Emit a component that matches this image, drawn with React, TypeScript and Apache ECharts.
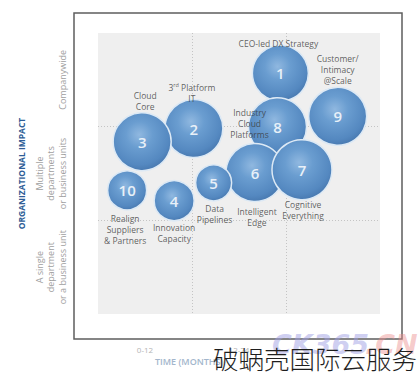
import React, { useEffect, useRef } from "react";
import * as echarts from "echarts";

// Bubble data (drawing order: later items on top)
const bubbleIds = ["1", "9", "8", "6", "7", "5", "2", "3", "4", "10"];
const bubbleNames = [
  "CEO-led DX Strategy",
  "Customer/\nIntimacy\n@Scale",
  "Industry\nCloud\nPlatforms",
  "Intelligent\nEdge",
  "Cognitive\nEverything",
  "Data\nPipelines",
  "{t|3}{sup|rd}{t| Platform}\n{t|IT}",
  "Cloud\nCore",
  "Innovation\nCapacity",
  "Realign\nSuppliers\n& Partners",
];
const timeValues = [1.94, 2.55, 1.91, 1.67, 2.17, 1.23, 1.02, 0.47, 0.81, 0.31];
const impactValues = [2.57, 2.11, 2.0, 1.51, 1.54, 1.4, 1.98, 1.84, 1.21, 1.32];
const bubbleSizes = [56, 58, 58, 58, 60, 36, 58, 58, 40, 39];

// Tick labels
const timeLabels = ["0-12", "12-24", ""];
const impactLabels = [
  "A single\ndepartment\nor a business unit",
  "Multiple\ndepartments\nor business units",
  "Companywide",
];

// Styling: label offsets relative to bubble centres (px)
const nameOffsets: [number, number][] = [
  [-2, -30],
  [0, -47],
  [-28, -3],
  [2, 44],
  [1, 40],
  [1, 31],
  [-2, -36],
  [3, -41],
  [0, 32],
  [-2, 39],
];

const FONT = "Open Sans";

export default function App() {
  const ref = useRef<HTMLDivElement>(null);
  useEffect(() => {
    if (!ref.current) return;
    const chart = echarts.init(ref.current, undefined, { renderer: "svg" });
    const pts = timeValues.map((x, i) => [x, impactValues[i], bubbleSizes[i]]);
    const ball = new echarts.graphic.RadialGradient(0.45, 0.38, 0.65, [
      { offset: 0, color: "#90b8e0" },
      { offset: 0.35, color: "#6a9dd0" },
      { offset: 0.8, color: "#5488c0" },
      { offset: 1, color: "#4676ad" },
    ]);
    const splitStyle = {
      show: true,
      showMinLine: false,
      showMaxLine: false,
      lineStyle: { color: "#c4c4c4", type: [1, 2], width: 1 },
    };
    chart.setOption({
      animation: false,
      backgroundColor: "#ffffff",
      textStyle: { fontFamily: FONT },
      grid: {
        left: 98,
        top: 33,
        width: 282,
        height: 281,
        show: true,
        backgroundColor: "#efefef",
        borderWidth: 0,
      },
      xAxis: [
        {
          type: "value",
          min: 0,
          max: 3,
          interval: 1,
          axisLine: { show: false },
          axisTick: { show: false },
          axisLabel: { show: false },
          splitLine: splitStyle,
        },
        {
          type: "category",
          position: "bottom",
          data: timeLabels,
          boundaryGap: true,
          axisLine: { show: false },
          axisTick: { show: false },
          splitLine: { show: false },
          axisLabel: {
            interval: 0,
            color: "#b4b4b4",
            fontSize: 8,
            margin: 31,
            fontFamily: FONT,
          },
        },
      ],
      yAxis: [
        {
          type: "value",
          min: 0,
          max: 3,
          interval: 1,
          axisLine: { show: false },
          axisTick: { show: false },
          axisLabel: { show: false },
          splitLine: splitStyle,
        },
        {
          type: "category",
          position: "left",
          data: impactLabels,
          boundaryGap: true,
          axisLine: { show: false },
          axisTick: { show: false },
          splitLine: { show: false },
          axisLabel: {
            interval: 0,
            rotate: 90,
            color: "#a0a0a0",
            fontSize: 9,
            lineHeight: 11.5,
            margin: 30,
            align: "center",
            fontFamily: FONT,
          },
          name: "ORGANIZATIONAL IMPACT",
          nameLocation: "middle",
          nameRotate: 90,
          nameGap: 72,
          nameTextStyle: {
            color: "#2e5d96",
            fontSize: 8.5,
            fontWeight: "bold",
            fontFamily: FONT,
          },
        },
      ],
      series: [
        {
          type: "scatter",
          xAxisIndex: 0,
          yAxisIndex: 0,
          data: pts,
          symbolSize: (v: number[]) => v[2],
          itemStyle: {
            color: ball,
            borderColor: "#dce9f5",
            borderWidth: 1.5,
            opacity: 1,
          },
          label: {
            show: true,
            position: "inside",
            formatter: (p: any) => bubbleIds[p.dataIndex],
            color: "#e8f0f8",
            fontSize: 15,
            fontWeight: 600,
            fontFamily: FONT,
          },
          z: 2,
        },
        {
          type: "scatter",
          xAxisIndex: 0,
          yAxisIndex: 0,
          data: pts.map((p, i) => ({
            value: p,
            label: { offset: nameOffsets[i] },
          })),
          symbolSize: 1,
          itemStyle: { color: "transparent" },
          silent: true,
          label: {
            show: true,
            position: "inside",
            formatter: (p: any) => bubbleNames[p.dataIndex],
            color: "#3a3a3a",
            fontSize: 8.5,
            lineHeight: 11,
            align: "center",
            verticalAlign: "middle",
            fontFamily: FONT,
            rich: {
              t: { color: "#3a3a3a", fontSize: 8.5, lineHeight: 11, fontFamily: FONT },
              sup: { color: "#3a3a3a", fontSize: 5.5, lineHeight: 11, verticalAlign: "top", fontFamily: FONT },
            },
          },
          z: 5,
        },
      ],
      graphic: [
        {
          type: "rect",
          shape: { x: 74, y: 13, width: 328, height: 326 },
          style: { fill: "none", stroke: "#5e5e5e", lineWidth: 1.5 },
          z: 0,
        },
        {
          type: "text",
          x: 155,
          y: 357,
          style: {
            text: "TIME (MONTHS)",
            fill: "#a3b6cc",
            fontSize: 9,
            fontWeight: 600,
            fontFamily: FONT,
          },
          z: 1,
        },
        {
          type: "text",
          x: 272,
          y: 331,
          style: {
            text: "CK365",
            fill: "rgba(160,160,228,0.5)",
            fontSize: 27,
            fontWeight: "bold",
            fontStyle: "italic",
            fontFamily: "DejaVu Sans",
          },
          z: 50,
        },
        {
          type: "text",
          x: 365,
          y: 331,
          style: {
            text: ".CN",
            fill: "rgba(235,140,140,0.45)",
            fontSize: 27,
            fontWeight: "bold",
            fontStyle: "italic",
            fontFamily: "DejaVu Sans",
          },
          z: 50,
        },
        {
          type: "text",
          x: 213,
          y: 345,
          style: {
            text: "破蜗壳国际云服务",
            fill: "#1e1e1e",
            fontSize: 25.5,
            fontWeight: 300,
            fontFamily: "Noto Sans CJK SC",
          },
          z: 60,
        },
      ],
    });
    return () => chart.dispose();
  }, []);
  return (
    <div
      ref={ref}
      style={{ position: "absolute", left: 0, top: 0, width: 420, height: 380 }}
    />
  );
}
